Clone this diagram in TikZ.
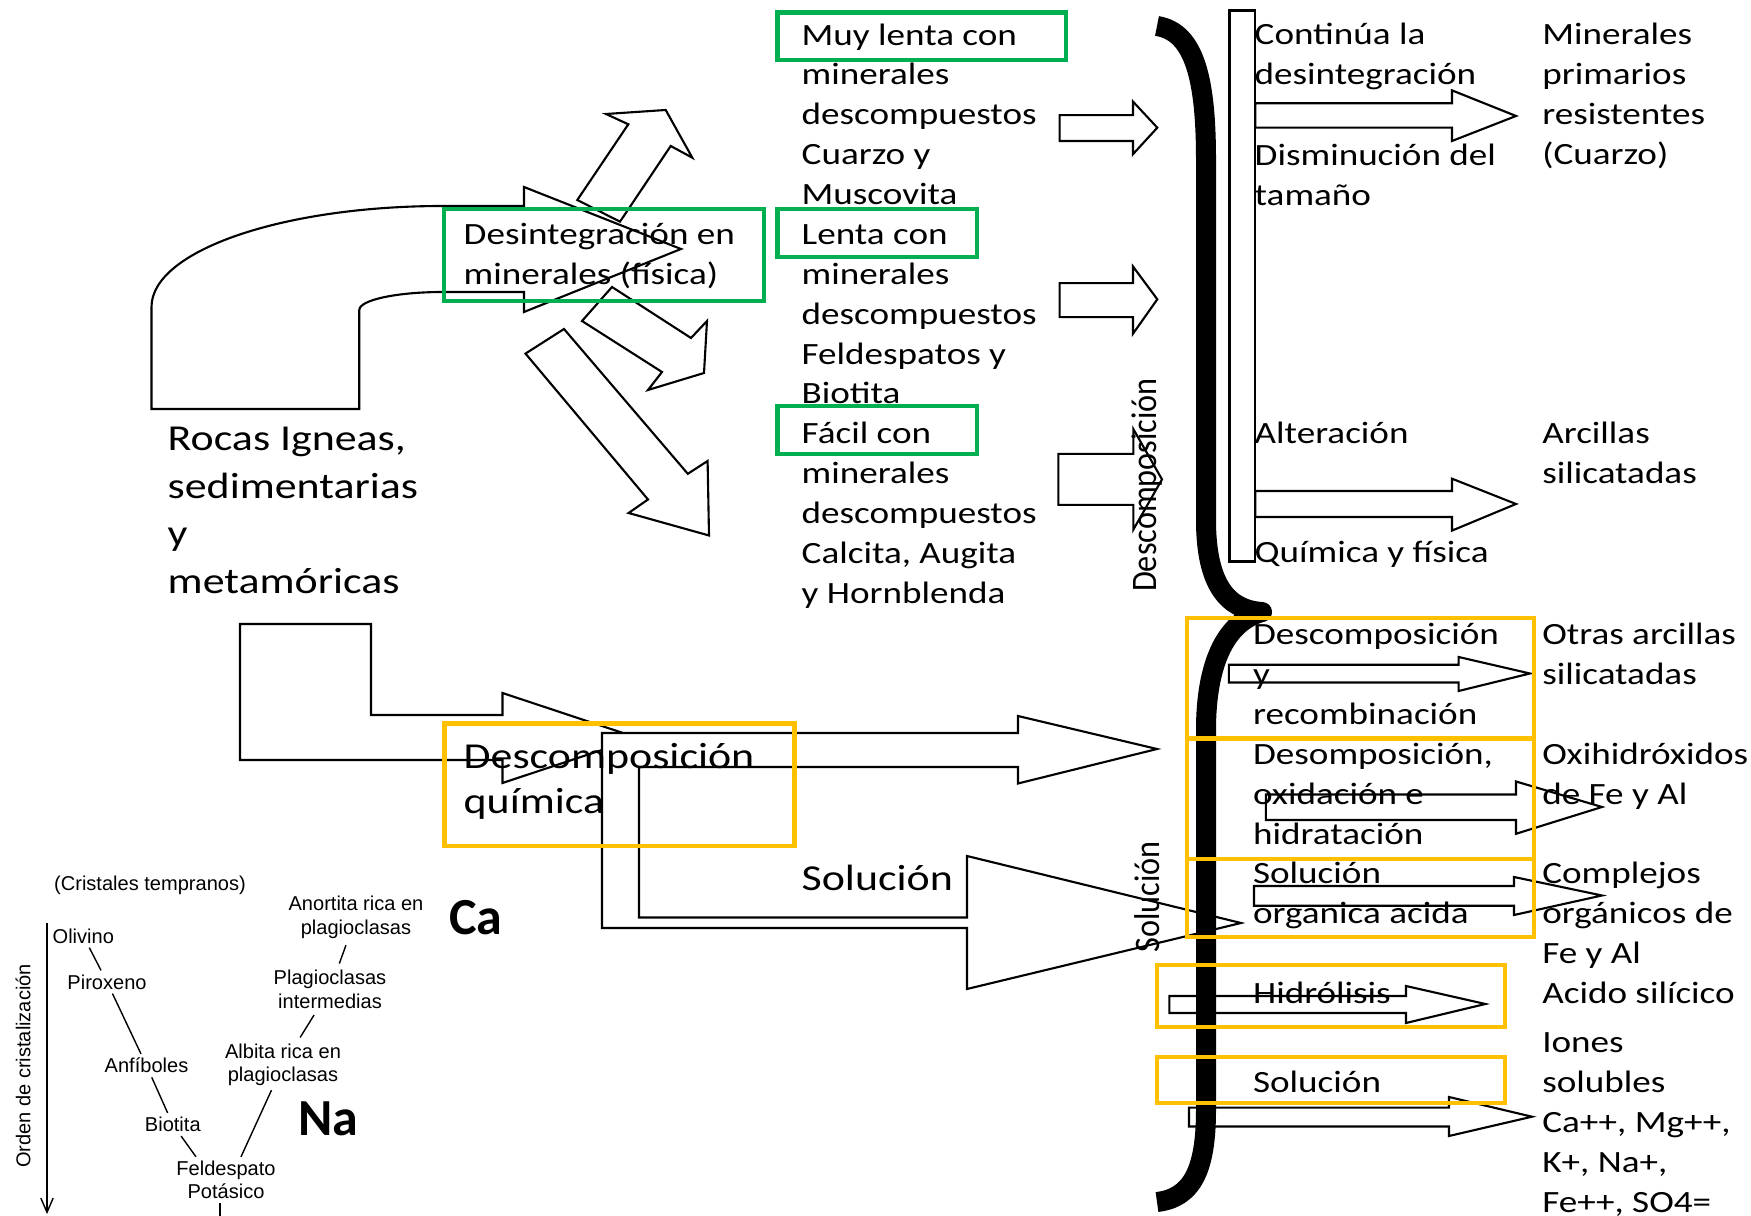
\documentclass[tikz,border=0pt]{standalone}
\usepackage{fontspec}
\setmainfont{Carlito}[FakeStretch=1.2]
\newfontfamily\rotfont{Carlito}[FakeStretch=0.9]
\newfontfamily\plainfont{Carlito}
\newfontfamily\bowenfont{Liberation Sans}
\usetikzlibrary{arrows.meta}
\definecolor{boxgreen}{HTML}{00B050}
\definecolor{boxyellow}{HTML}{FFC000}
\tikzset{
  txt/.style={anchor=north west, inner sep=0pt, align=left, font=\fontsize{8.8}{11.33}\selectfont},
  bigtxt/.style={anchor=north west, inner sep=0pt, align=left, font=\fontsize{10.4}{13.55}\selectfont},
  midtxt/.style={anchor=north west, inner sep=0pt, align=left, font=\fontsize{10.4}{12.8}\selectfont},
  rottxt/.style={rotate=90, inner sep=0pt, font=\rotfont\fontsize{10.2}{12}\selectfont},
  blockarrow/.style={draw, line width=0.6pt, line join=miter},
  greenbox/.style={draw=boxgreen, line width=1.15pt},
  yellowbox/.style={draw=boxyellow, line width=1.15pt},
  bowen/.style={align=center, inner sep=1pt, font=\bowenfont\fontsize{5.7}{6.6}\selectfont},
  ion/.style={inner sep=0pt, font=\plainfont\bfseries\fontsize{14.8}{16}\selectfont}
}
\begin{document}
\begin{tikzpicture}[x=0.01cm, y=-0.01cm]
  \useasboundingbox (0,0) rectangle (1751,1216);
  \draw[blockarrow] (151.5,409) -- (151.5,307) .. controls (151.5,251) and (282,206) .. (443,206) -- (524,206) -- (524,187) -- (681,249) -- (524,312) -- (524,292) -- (443,292) .. controls (396.6,292) and (359.3,300) .. (359.3,310) -- (359.3,409) -- cycle;
  \draw[blockarrow] (577.3,200) -- (628.3,124.3) -- (606,114) -- (665.7,110) -- (692.3,157.7) -- (670.7,146) -- (620,221.7) -- cycle;
  \draw[blockarrow] (582,321) -- (612,287) -- (691,338) -- (707,321) -- (704,373) -- (648,390) -- (662,372) -- cycle;
  \draw[blockarrow] (525.5,353.6) -- (564,329) -- (687.8,473.8) -- (707.6,461) -- (709,535.5) -- (628.6,513) -- (648,499.5) -- cycle;
  \draw[blockarrow] (240,624) -- (371,624) -- (371,715) -- (502.5,715) -- (502.5,693) -- (638,738) -- (502.5,783) -- (502.5,760) -- (240,760) -- cycle;
  \draw[blockarrow, fill=white] (602,733) -- (1018,733) -- (1018,716) -- (1157,749) -- (1018,783.5) -- (1018,767) -- (639,767) -- (639,917.5) -- (967,917.5) -- (967,856) -- (1241,923) -- (967,989) -- (967,928) -- (602,928) -- cycle;
  \draw[blockarrow] (1059.6,115.2) -- (1133,115.2) -- (1133,101.6) -- (1157.3,127.7) -- (1133,154.2) -- (1133,141) -- (1059.6,141) -- cycle;
  \draw[blockarrow] (1059.6,283.1) -- (1133,283.1) -- (1133,266.5) -- (1157.3,299.3) -- (1133,333.7) -- (1133,317.1) -- (1059.6,317.1) -- cycle;
  \draw[blockarrow] (1058.3,453.9) -- (1133.3,453.9) -- (1133.3,429) -- (1162,479.4) -- (1133.3,529.7) -- (1133.3,504.9) -- (1058.3,504.9) -- cycle;
  \draw[blockarrow] (1229.5,10.5) rectangle (1255.3,561.5);
  \draw[blockarrow] (1255.3,103.3) -- (1452,103.3) -- (1452,90.4) -- (1516,116) -- (1452,141) -- (1452,127.7) -- (1255.3,127.7) -- cycle;
  \draw[blockarrow] (1255.3,491) -- (1452,491) -- (1452,478.7) -- (1516,504) -- (1452,530.6) -- (1452,517) -- (1255.3,517) -- cycle;
  \draw[blockarrow] (1228.8,664.8) -- (1458.6,664.8) -- (1458.6,657) -- (1530,673.5) -- (1458.6,691) -- (1458.6,682.5) -- (1228.8,682.5) -- cycle;
  \draw[blockarrow] (1265.8,794.5) -- (1516,794.5) -- (1516,781.5) -- (1602,807) -- (1516,833.8) -- (1516,820) -- (1265.8,820) -- cycle;
  \draw[blockarrow] (1254,886) -- (1514,886) -- (1514,877) -- (1602,895.5) -- (1514,915) -- (1514,905.7) -- (1254,905.7) -- cycle;
  \draw[blockarrow] (1169.4,996) -- (1406,996) -- (1406,986) -- (1485.4,1004) -- (1406,1023) -- (1406,1013) -- (1169.4,1013) -- cycle;
  \draw[blockarrow] (1189,1107.6) -- (1449,1107.6) -- (1449,1097) -- (1532,1116.7) -- (1449,1136) -- (1449,1126.5) -- (1189,1126.5) -- cycle;
  \draw[line width=0.2cm, line join=round] (1157,26) .. controls (1195,32) and (1206,80) .. (1206,160) -- (1206,520) .. controls (1206,585) and (1228,610) .. (1262,612) .. controls (1225,622) and (1206,665) .. (1206,730) -- (1206,1110) .. controls (1206,1170) and (1192,1198) .. (1157,1202);
  \draw[greenbox] (444,209) rectangle (764,301);
  \draw[greenbox] (777.5,12.5) rectangle (1066,60);
  \draw[greenbox] (777.5,209) rectangle (976.6,257);
  \draw[greenbox] (777.5,406) rectangle (976.6,454);
  \draw[yellowbox] (444.5,723.5) rectangle (794.5,846);
  \draw[yellowbox] (1186.7,618) rectangle (1534,738.5);
  \draw[yellowbox] (1186.7,738.5) rectangle (1534,859);
  \draw[yellowbox] (1186.7,859) rectangle (1534,936.7);
  \draw[yellowbox] (1156.7,965) rectangle (1504.6,1027);
  \draw[yellowbox] (1156.7,1056.6) rectangle (1504.6,1103.3);

  \node[bigtxt] (rocas) at (167,416.6) {\strut Rocas Igneas,\\sedimentarias\\y\\metamóricas};
  \node[txt] (desint) at (463,216.3) {\strut Desintegración en\\minerales (física)};
  \node[midtxt] (descq) at (463,736.5) {\strut Descomposición\\química};
  \node[midtxt] (solq) at (801,858.5) {\strut Solución};
  \node[txt] (muylenta) at (801,16.5) {\strut Muy lenta con\\minerales\\descompuestos\\Cuarzo y\\Muscovita};
  \node[txt] (lenta) at (801,216) {\strut Lenta con\\minerales\\descompuestos\\Feldespatos y\\Biotita};
  \node[txt] (facil) at (801,415.3) {\strut Fácil con\\minerales\\descompuestos\\Calcita, Augita\\y Hornblenda};
  \node[txt] (continua) at (1254,16.3) {\strut Continúa la\\desintegración};
  \node[txt] (disminucion) at (1254,136.7) {\strut Disminución del\\tamaño};
  \node[txt] (alteracion) at (1254,415.3) {\strut Alteración};
  \node[txt] (quimfis) at (1254,534.3) {\strut Química y física};
  \node[txt] (primarios) at (1541.6,16.3) {\strut Minerales\\primarios\\resistentes\\(Cuarzo)};
  \node[txt] (arcillas) at (1541.6,415.3) {\strut Arcillas\\silicatadas};
  \node[txt] (recomb) at (1252.4,616) {\strut Descomposición\\y\\recombinación};
  \node[txt] (oxid) at (1252.4,736.3) {\strut Desomposición,\\oxidación e\\hidratación};
  \node[txt] (solorg) at (1252.4,855.3) {\strut Solución\\organica acida};
  \node[txt] (hidrol) at (1252.4,975) {\strut Hidrólisis};
  \node[txt] (solucion) at (1252.4,1063.8) {\strut Solución};
  \node[txt] (otras) at (1541.6,616) {\strut Otras arcillas\\silicatadas};
  \node[txt] (oxihid) at (1541.6,736.3) {\strut Oxihidróxidos\\de Fe y Al};
  \node[txt] (complejos) at (1541.6,855.3) {\strut Complejos\\orgánicos de\\Fe y Al};
  \node[txt] (silicico) at (1541.6,975) {\strut Acido silícico};
  \node[txt] (iones) at (1541.6,1024.3) {\strut Iones\\solubles\\Ca++, Mg++,\\K+, Na+,\\Fe++, SO4=};
  \node[rottxt] (rotdesc) at (1147,485) {Descomposición};
  \node[rottxt] (rotsol) at (1147,897) {Solución};

  \node[bowen] (crist) at (150,885) {(Cristales tempranos)};
  \node[bowen] (oli) at (83.3,936) {Olivino};
  \node[bowen] (pir) at (107,982) {Piroxeno};
  \node[bowen] (anf) at (146.5,1065.6) {Anfíboles};
  \node[bowen] (bio) at (172.8,1124.5) {Biotita};
  \node[bowen] (feld) at (226,1180) {Feldespato\\Potásico};
  \node[bowen] (anor) at (356,917.4) {Anortita rica en\\plagioclasas};
  \node[bowen] (plag) at (330,989.4) {Plagioclasas\\intermedias};
  \node[bowen] (alb) at (283,1065) {Albita rica en\\plagioclasas};
  \node[bowen, rotate=90] (orden) at (23,1066) {Orden de cristalización};
  \node[ion] (ca) at (475.7,918) {Ca};
  \node[ion] (na) at (328.5,1118.6) {Na};
  \coordinate (ordtop) at (47,923);
  \coordinate (ordbot) at (47,1214);
  \coordinate (potend) at (220,1230);
  \draw[line width=0.4pt] (oli) -- (pir);
  \draw[line width=0.4pt] (pir) -- (anf);
  \draw[line width=0.4pt] (anf) -- (bio);
  \draw[line width=0.4pt] (bio) -- ([xshift=-0.3cm]feld.north);
  \draw[line width=0.4pt, shorten <=0.8pt, shorten >=0.8pt] (anor) -- (plag);
  \draw[line width=0.4pt, shorten <=0.8pt, shorten >=0.8pt] (plag) -- (alb);
  \draw[line width=0.4pt] (alb) -- ([xshift=0.15cm]feld.north);
  \draw[line width=0.4pt] (feld.south -| potend) -- (potend);
  \draw[line width=0.4pt, -{Straight Barb[length=4pt, width=3.5pt]}] (ordtop) -- (ordbot);
\end{tikzpicture}
\end{document}
